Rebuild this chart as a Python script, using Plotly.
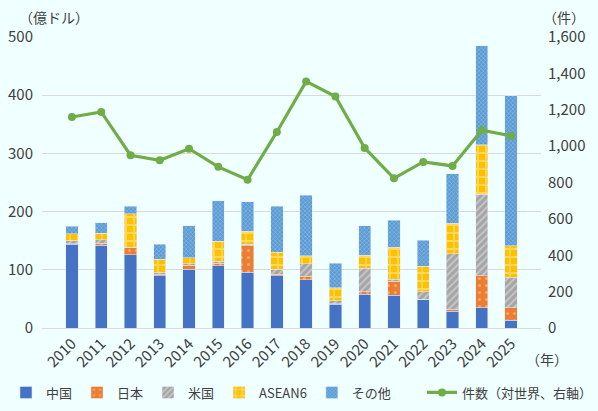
import plotly.graph_objects as go

years = [str(y) for y in range(2010, 2026)]
china = [144, 142, 126, 90, 101, 107, 96, 90, 83, 41, 58, 56, 49, 29, 35, 13]
japan = [1, 4, 12, 2, 7, 4, 45, 2, 6, 0.5, 4, 24, 0.5, 3, 55, 22]
usa = [5, 6, 1, 4, 2, 4, 3, 9, 21, 5, 41, 4, 13, 96, 140, 52]
asean6 = [12, 11, 57, 22, 11, 34, 22, 29, 14, 23, 22, 55, 44, 52, 85, 54]
other = [13, 18, 13, 26, 55, 70, 51, 79, 104, 42, 51, 46, 44, 85, 170, 258]
counts = [1160, 1188, 950, 922, 986, 886, 815, 1078, 1356, 1273, 990, 823, 913, 891, 1087, 1056]

FONT = "Noto Sans CJK JP"
TXT = "#404040"
fig = go.Figure()

fig.add_trace(go.Bar(x=years, y=china, name="中国", marker=dict(color="#4472C4")))
fig.add_trace(go.Bar(x=years, y=japan, name="日本",
                     marker=dict(color="#ED7D31",
                                 pattern=dict(shape=".", fgcolor="#F8D0B0", bgcolor="#ED7D31", size=7, solidity=0.15))))
fig.add_trace(go.Bar(x=years, y=usa, name="米国",
                     marker=dict(color="#A5A5A5",
                                 pattern=dict(shape="/", fgcolor="#E8E8E8", bgcolor="#A5A5A5", size=5, solidity=0.4))))
fig.add_trace(go.Bar(x=years, y=asean6, name="ASEAN6",
                     marker=dict(color="#FFC000",
                                 pattern=dict(shape="+", fgcolor="#FFF0B0", bgcolor="#FFC000", size=8, solidity=0.4))))
fig.add_trace(go.Bar(x=years, y=other, name="その他",
                     marker=dict(color="#5B9BD5",
                                 pattern=dict(shape="x", fgcolor="#D0E4F6", bgcolor="#5B9BD5", size=3, solidity=0.3))))
fig.add_trace(go.Scatter(x=years, y=counts, name="件数（対世界、右軸）", yaxis="y2",
                         mode="lines+markers", legend="legend2",
                         line=dict(color="#70AD47", width=3.2),
                         marker=dict(color="#70AD47", size=8)))

leg_common = dict(orientation="h", xref="container", y=0.045, yanchor="middle", yref="container",
                  font=dict(size=13, color=TXT), traceorder="normal",
                  itemwidth=30, tracegroupgap=0, bgcolor="rgba(0,0,0,0)")

fig.update_layout(
    width=598, height=411,
    barmode="stack", bargap=0.58,
    paper_bgcolor="#F0FFFF", plot_bgcolor="#F0FFFF",
    margin=dict(l=42, r=57, t=37, b=83, autoexpand=False),
    font=dict(family=FONT, size=14, color=TXT),
    showlegend=True,
    legend=dict(x=0.01, xanchor="left", **leg_common),
    legend2=dict(x=1.0, xanchor="right", **leg_common),
    xaxis=dict(type="category", tickangle=-45, showline=True, linecolor="#D9D9D9",
               tickfont=dict(size=15, color=TXT), ticks=""),
    yaxis=dict(range=[0, 500], dtick=100, showgrid=True, gridcolor="#D9D9D9",
               zeroline=False, tickfont=dict(size=15, color=TXT), ticks="",
               ticklabelstandoff=8),
    yaxis2=dict(range=[0, 1600], dtick=200, overlaying="y", side="right", showgrid=False,
                tickformat=",", zeroline=False, tickfont=dict(size=15, color=TXT), ticks="",
                ticklabelstandoff=6),
    annotations=[
        dict(text="（億ドル）", xref="paper", yref="paper", x=-0.05, y=1.0, yshift=20,
             xanchor="left", yanchor="middle", showarrow=False, font=dict(size=14, color=TXT)),
        dict(text="（件）", xref="paper", yref="paper", x=1.0, y=1.0, xshift=0, yshift=20,
             xanchor="left", yanchor="middle", showarrow=False, font=dict(size=14, color=TXT)),
        dict(text="（年）", xref="paper", yref="paper", x=0.966, y=0.0, yshift=-31,
             xanchor="left", yanchor="middle", showarrow=False, font=dict(size=14, color=TXT)),
    ],
)

fig.write_html("out.html", config={"displayModeBar": False},
               post_script="document.body.style.margin='0';")
